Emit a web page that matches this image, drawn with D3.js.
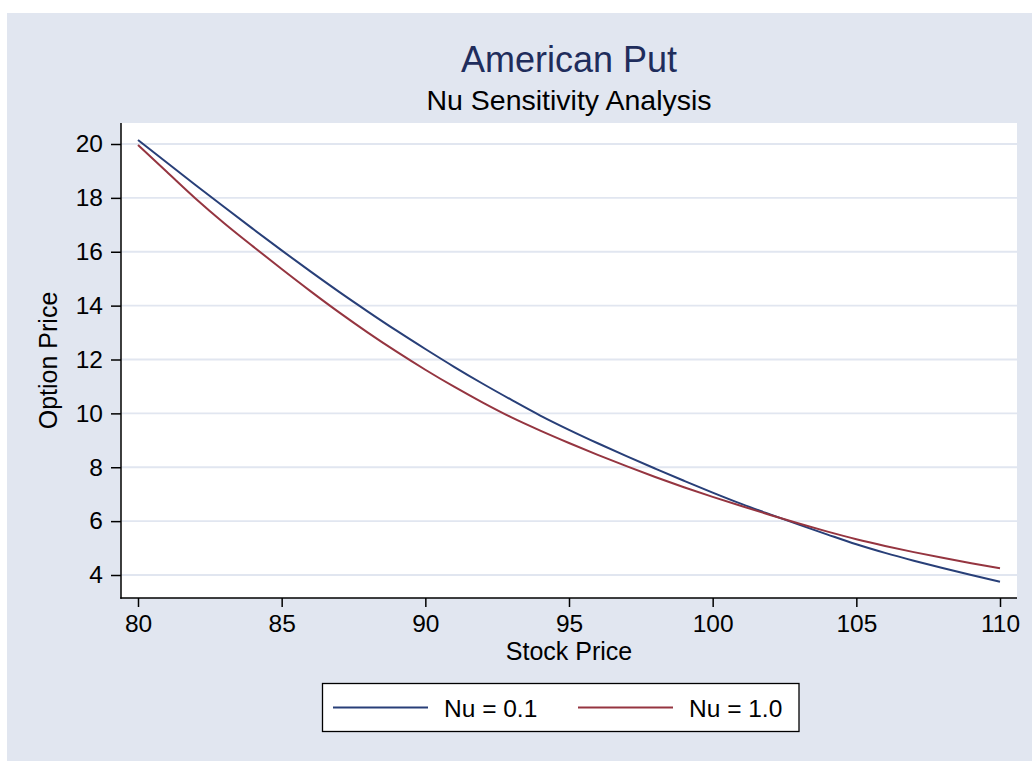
<!DOCTYPE html>
<html>
<head>
<meta charset="utf-8">
<script src="https://cdn.jsdelivr.net/npm/d3@7"></script>
<style>
  html, body { margin: 0; padding: 0; background: #ffffff; }
  svg { display: block; font-family: "Liberation Sans", Arial, Helvetica, sans-serif; }
</style>
</head>
<body>
<svg id="chart" width="1032" height="761"></svg>
<script>
// ---- Data ----
const stockPrice = [80, 81, 82, 83, 84, 85, 86, 87, 88, 89, 90, 91, 92, 93, 94, 95,
                    96, 97, 98, 99, 100, 101, 102, 103, 104, 105, 106, 107, 108, 109, 110];
const nu01 = [20.15, 19.31, 18.48, 17.66, 16.85, 16.05, 15.27, 14.51, 13.78, 13.07,
              12.39, 11.73, 11.10, 10.50, 9.92, 9.39, 8.89, 8.41, 7.95, 7.50,
              7.06, 6.64, 6.25, 5.87, 5.50, 5.14, 4.82, 4.53, 4.26, 4.00, 3.75];
const nu10 = [19.96, 18.97, 17.98, 17.06, 16.20, 15.36, 14.54, 13.75, 13.00, 12.29,
              11.62, 10.99, 10.40, 9.85, 9.36, 8.90, 8.46, 8.04, 7.64, 7.26,
              6.90, 6.56, 6.23, 5.91, 5.61, 5.33, 5.08, 4.85, 4.64, 4.44, 4.25];
const seriesNames = ["Nu = 0.1", "Nu = 1.0"];
const xTicks = [80, 85, 90, 95, 100, 105, 110];
const yTicks = [4, 6, 8, 10, 12, 14, 16, 18, 20];
const titleText = "American Put";
const subtitleText = "Nu Sensitivity Analysis";
const xTitle = "Stock Price";
const yTitle = "Option Price";

// ---- Styles ----
const bgColor = "#e1e6f0";
const gridColor = "#e1e6f0";
const colors = ["#283f78", "#953540"];

const svg = d3.select("#chart");

// background region
svg.append("rect").attr("x", 7).attr("y", 13).attr("width", 1025).attr("height", 748)
  .attr("fill", bgColor);

// plot region
const plot = { left: 121, right: 1017, top: 123, bottom: 598 };
svg.append("rect").attr("x", plot.left).attr("y", plot.top)
  .attr("width", plot.right - plot.left).attr("height", plot.bottom - plot.top)
  .attr("fill", "#ffffff");

const x = d3.scaleLinear().domain([80, 110]).range([138, 1000]);
const y = d3.scaleLinear().domain([4, 20]).range([575, 144]);

// gridlines
svg.append("g").selectAll("line").data(yTicks).join("line")
  .attr("x1", plot.left).attr("x2", plot.right)
  .attr("y1", d => y(d)).attr("y2", d => y(d))
  .attr("stroke", gridColor).attr("stroke-width", 1.8);

// series lines
const series = [nu01, nu10];
const line = d3.line().curve(d3.curveMonotoneX)
  .x((d, i) => x(stockPrice[i])).y(d => y(d));
svg.append("g").selectAll("path").data(series).join("path")
  .attr("d", d => line(d))
  .attr("fill", "none")
  .attr("stroke", (d, i) => colors[i])
  .attr("stroke-width", 2)
  .attr("stroke-linejoin", "round");

// axes
const xAxis = d3.axisBottom(x).tickValues(xTicks).tickSize(9).tickPadding(8)
  .tickFormat(d3.format("d"));
const gx = svg.append("g").attr("transform", `translate(0,${plot.bottom})`).call(xAxis);
gx.select(".domain").remove();
gx.selectAll(".tick line").attr("stroke", "#000").attr("stroke-width", 1.5);
gx.selectAll(".tick text").attr("font-size", 24.5).attr("fill", "#000")
  .attr("font-family", "Liberation Sans, Arial, sans-serif");

const yAxis = d3.axisLeft(y).tickValues(yTicks).tickSize(10).tickPadding(8)
  .tickFormat(d3.format("d"));
const gy = svg.append("g").attr("transform", `translate(${plot.left},0)`).call(yAxis);
gy.select(".domain").remove();
gy.selectAll(".tick line").attr("stroke", "#000").attr("stroke-width", 1.5);
gy.selectAll(".tick text").attr("font-size", 24.5).attr("fill", "#000")
  .attr("font-family", "Liberation Sans, Arial, sans-serif");

// axis lines
svg.append("line").attr("x1", plot.left).attr("x2", plot.left)
  .attr("y1", plot.top).attr("y2", plot.bottom + 0.75)
  .attr("stroke", "#000").attr("stroke-width", 1.5);
svg.append("line").attr("x1", plot.left - 0.75).attr("x2", plot.right)
  .attr("y1", plot.bottom).attr("y2", plot.bottom)
  .attr("stroke", "#000").attr("stroke-width", 1.5);

// titles
svg.append("text").attr("x", 569).attr("y", 72).attr("text-anchor", "middle")
  .attr("font-size", 36).attr("fill", "#1f2d5c").text(titleText);
svg.append("text").attr("x", 569).attr("y", 110).attr("text-anchor", "middle")
  .attr("font-size", 28.5).attr("fill", "#000").text(subtitleText);
svg.append("text").attr("x", 569).attr("y", 660).attr("text-anchor", "middle")
  .attr("font-size", 25).attr("fill", "#000").text(xTitle);
svg.append("text").attr("transform", "translate(57,360.5) rotate(-90)")
  .attr("text-anchor", "middle").attr("font-size", 25).attr("fill", "#000").text(yTitle);

// legend
const legend = svg.append("g");
legend.append("rect").attr("x", 322.5).attr("y", 683.5).attr("width", 476.5).attr("height", 48)
  .attr("fill", "#fff").attr("stroke", "#000").attr("stroke-width", 1.3);
const legX = [333, 578];
const legItems = legend.selectAll("g.item").data(seriesNames).join("g").attr("class", "item");
legItems.append("line")
  .attr("x1", (d, i) => legX[i]).attr("x2", (d, i) => legX[i] + 95)
  .attr("y1", 707.5).attr("y2", 707.5)
  .attr("stroke", (d, i) => colors[i]).attr("stroke-width", 2);
legItems.append("text")
  .attr("x", (d, i) => legX[i] + 111).attr("y", 716.5)
  .attr("font-size", 24.5).attr("fill", "#000").text(d => d);
</script>
</body>
</html>
